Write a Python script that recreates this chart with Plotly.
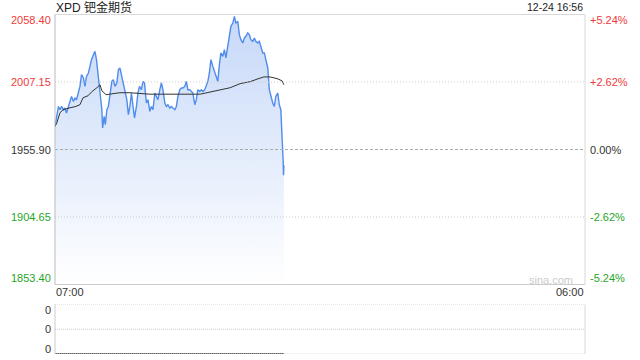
import plotly.graph_objects as go

# ---------------- data ----------------
title_text = "XPD 钯金期货"
stamp_text = "12-24 16:56"
prev_close = 1955.90
price_ticks = [2058.40, 2007.15, 1955.90, 1904.65, 1853.40]
x_labels = ["07:00", "06:00"]
session_minutes = 1380  # 07:00 -> 06:00 next day

minutes = [0, 4, 9, 13, 17, 22, 26, 30, 35, 39, 43, 48, 52, 56, 61, 65, 69, 74, 78, 82,
           87, 91, 95, 100, 104, 108, 113, 117, 122, 124, 128, 131, 135, 139, 143, 148, 152, 156, 161, 165,
           169, 174, 178, 182, 187, 191, 195, 199, 203, 207, 212, 216, 220, 225, 229, 233, 238, 242, 247, 251,
           255, 260, 264, 268, 273, 277, 281, 286, 290, 294, 299, 303, 307, 312, 316, 320, 325, 329, 333, 338,
           342, 346, 351, 355, 359, 364, 368, 372, 377, 381, 385, 390, 394, 398, 402, 406, 411, 415, 419, 424,
           428, 432, 437, 441, 445, 450, 454, 458, 463, 467, 471, 476, 480, 484, 489, 493, 497, 502, 506, 510,
           515, 519, 523, 528, 532, 536, 541, 545, 549, 554, 558, 562, 567, 571, 575, 580, 584, 588, 592, 594,
           595, 596]
prices = [1973.4, 1981.0, 1988.6, 1986.1, 1988.6, 1986.1, 1987.4, 1983.6, 1988.6, 1993.7,
          1996.2, 1992.4, 1995.0, 1993.7, 1998.8, 2003.8, 2012.7, 2010.2, 2003.8, 2011.4,
          2014.0, 2020.3, 2024.1, 2027.9, 2030.4, 2024.1, 2011.4, 2001.3, 1986.1, 1972.2,
          1981.0, 1974.7, 1986.1, 1988.6, 1996.2, 2007.6, 2008.9, 2003.8, 2006.4, 2016.5,
          2017.8, 2011.4, 2003.8, 1998.8, 1993.7, 1982.3, 1988.6, 1998.8, 1988.6, 1979.8,
          1988.6, 1998.8, 2003.8, 2001.3, 2007.6, 2006.4, 1991.2, 1993.7, 1984.9, 1988.6,
          1986.1, 1998.8, 1996.2, 1993.7, 2001.3, 2006.4, 2001.3, 1991.2, 1988.6, 1989.9,
          1987.4, 1988.6, 1987.4, 1986.1, 1988.6, 1996.2, 2001.3, 2002.6, 2002.6, 2003.8,
          2007.6, 2001.3, 2001.3, 2000.0, 1998.8, 1989.9, 1993.7, 2001.3, 2000.0, 2001.3,
          2000.0, 2001.3, 2003.8, 2007.6, 2014.0, 2024.1, 2019.0, 2015.2, 2012.7, 2007.6,
          2020.3, 2029.2, 2026.6, 2031.7, 2025.4, 2034.2, 2039.3, 2049.4, 2051.9, 2057.0,
          2051.9, 2053.2, 2043.1, 2039.3, 2036.8, 2040.6, 2041.8, 2044.4, 2043.1, 2039.3,
          2038.0, 2040.6, 2038.0, 2036.8, 2038.0, 2034.2, 2029.2, 2029.2, 2024.1, 2017.8,
          2001.3, 1996.2, 1991.2, 1988.6, 1996.2, 1998.8, 1989.9, 1986.1, 1965.9, 1947.8,
          1936.4, 1944.0]

avg_minutes = [0, 5, 13, 21, 39, 52, 65, 73, 86, 96, 109, 117, 122, 133, 151, 169, 195, 247,
               378, 396, 411, 430, 456, 482, 508, 526, 544, 560, 578, 591, 596]
avg_prices = [1973.4, 1976.3, 1983.8, 1986.1, 1987.6, 1988.4, 1989.9, 1995.2, 1996.7, 1999.8,
              2002.8, 2005.1, 2000.5, 1997.5, 1998.3, 1999.0, 1999.0, 1997.9, 1997.9, 1999.0,
              1999.8, 2001.3, 2002.8, 2005.9, 2007.4, 2009.3, 2011.0, 2011.0, 2009.7, 2008.1,
              2005.1]

volumes = [0] * len(minutes)  # all volumes shown are 0
vol_ticks = [1.0, 0.5, 0.0]
vol_labels = ["0", "0", "0"]

# ---------------- layout constants ----------------
W, H = 640, 360
XL, XR = 55 / W, 585 / W
MAIN_TOP, MAIN_BOT = 1 - 14.5 / H, 1 - 284.5 / H
VOL_TOP, VOL_BOT = 1 - 304.5 / H, 1 - 354 / H
FONT = "Liberation Sans, Arial, Noto Sans CJK SC, sans-serif"
RED, GREEN, DARK = "#f03a3a", "#1fa51f", "#333333"

ymin, ymax = min(price_ticks), max(price_ticks)

fig = go.Figure()

fig.add_trace(go.Scatter(
    x=minutes, y=prices, mode="lines",
    line=dict(color="#4f8ceb", width=1.4),
    fill="tozeroy",
    fillgradient=dict(type="vertical", start=ymin, stop=ymax,
                      colorscale=[[0, "rgba(255,255,255,1)"], [1, "rgba(198,216,248,1)"]]),
    hoverinfo="skip", showlegend=False, xaxis="x", yaxis="y"))

fig.add_trace(go.Scatter(
    x=avg_minutes, y=avg_prices, mode="lines",
    line=dict(color="#333333", width=1),
    hoverinfo="skip", showlegend=False, xaxis="x", yaxis="y"))

fig.add_trace(go.Scatter(
    x=minutes, y=volumes, mode="lines",
    line=dict(color="#666666", width=2),
    hoverinfo="skip", showlegend=False, xaxis="x2", yaxis="y2"))

shapes = []
def pline(x0, y0, x1, y1, color, dash="solid", width=1, yref="paper", xref="paper"):
    shapes.append(dict(type="line", xref=xref, yref=yref, x0=x0, y0=y0, x1=x1, y1=y1,
                       line=dict(color=color, width=width, dash=dash), layer="above"))

# grid lines in the price panel
for v in price_ticks[1:-1]:
    if abs(v - prev_close) < 1e-9:
        pline(XL, v, XR, v, "#aaaaaa", dash="3px,2px", yref="y")
    else:
        pline(XL, v, XR, v, "#cccccc", dash="1px,2px", yref="y")

# price panel borders
pline(XL, MAIN_TOP, XR, MAIN_TOP, "#d9d9d9")
pline(XR, MAIN_TOP, XR, MAIN_BOT, "#d9d9d9")
pline(XL, MAIN_TOP, XL, MAIN_BOT, "#bbbbbb")
pline(XL, MAIN_BOT, XR, MAIN_BOT, "#cccccc")

# volume panel
for v in vol_ticks:
    pline(XL, v, XR, v, "#cccccc", dash="1px,1px", yref="y2")
pline(XL, VOL_TOP, XL, VOL_BOT, "#cccccc")
pline(XR, VOL_TOP, XR, VOL_BOT, "#d9d9d9")

annotations = []
def label(text, x, y, xanchor, color, size=11, xref="paper", yref="paper", yshift=0, xshift=0):
    annotations.append(dict(text=text, x=x, y=y, xref=xref, yref=yref, xanchor=xanchor,
                            yanchor="middle", showarrow=False, yshift=yshift, xshift=xshift,
                            font=dict(family=FONT, size=size, color=color), borderpad=0))

for i, v in enumerate(price_ticks):
    pct = (v - prev_close) / prev_close * 100
    color = RED if pct > 0.001 else (GREEN if pct < -0.001 else DARK)
    shift = -5.5 if i == 0 else (6.5 if i == len(price_ticks) - 1 else 0)
    label(f"{v:.2f}", 51.5 / W, v, "right", color, yref="y", yshift=shift)
    ptxt = f"{pct:+.2f}%" if abs(pct) > 0.001 else "0.00%"
    label(ptxt, 589 / W, v, "left", color, yref="y", yshift=shift)

for i, (v, t) in enumerate(zip(vol_ticks, vol_labels)):
    shift = -5.5 if i == 0 else (5.5 if i == len(vol_ticks) - 1 else 0)
    label(t, 51.5 / W, v, "right", DARK, yref="y2", yshift=shift)

label(x_labels[0], 0, 1 - 292 / H, "left", DARK, xref="x")
label(x_labels[1], session_minutes, 1 - 292 / H, "right", DARK, xref="x")
label(title_text, XL, 1 - 7 / H, "left", "#222222", size=12)
label(stamp_text, 583.5 / W, 1 - 7 / H, "right", "#222222", size=10.5)
label("sina.com", 574 / W, 1 - 280 / H, "right", "#cccccc", size=11)

axis_common = dict(showgrid=False, zeroline=False, showticklabels=False, showline=False, ticks="")
fig.update_layout(
    width=W, height=H, autosize=False,
    margin=dict(l=0, r=0, t=0, b=0),
    paper_bgcolor="white", plot_bgcolor="white",
    xaxis=dict(domain=[XL, XR], range=[0, session_minutes], anchor="y", **axis_common),
    yaxis=dict(domain=[MAIN_BOT, MAIN_TOP], range=[ymin, ymax], anchor="x", **axis_common),
    xaxis2=dict(domain=[XL, XR], range=[0, session_minutes], anchor="y2", matches="x", **axis_common),
    yaxis2=dict(domain=[VOL_BOT, VOL_TOP], range=[0, 1], anchor="x2", **axis_common),
    shapes=shapes, annotations=annotations,
    hovermode=False,
)

fig.write_html("out.html", config={"displayModeBar": False})
